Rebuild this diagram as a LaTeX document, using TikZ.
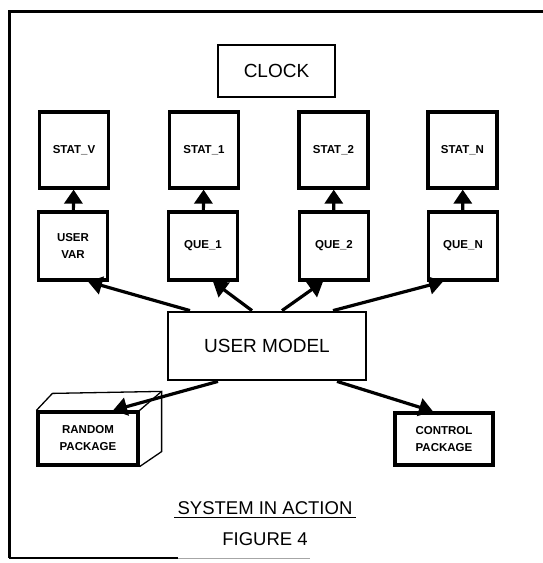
\documentclass[tikz,border=0pt]{standalone}
\usepackage{fontspec}
\setmainfont{Liberation Sans}
\usetikzlibrary{arrows.meta}

\begin{document}
\begin{tikzpicture}[x=1pt,y=-1pt,
        box/.style={draw, line width=3.2pt, inner sep=0pt, align=center,
            minimum width=69pt, font=\fontsize{11.5}{17}\selectfont\bfseries},
        bigbox/.style={draw, line width=2.8pt, inner sep=0pt,
            font=\fontsize{19}{22}\selectfont},
        link/.style={line width=3.2pt, -{Triangle[width=18pt,length=14pt]}}]
                \useasboundingbox (0,0) rectangle (543,563);

                % frame round the whole figure
                \draw[line width=3pt] (9,558) -- (9,11) -- (543,11);
                \draw[line width=2.4pt] (9,558) -- (178,558);
                \draw[line width=0.8pt, black!35] (178,558) -- (310,558);

                \node[bigbox, minimum width=117pt, minimum height=52pt] (clock) at (276.5,71) {CLOCK};

                \node[box, minimum height=76pt] (statv) at (74,150) {STAT\_V};
                \node[box, minimum height=76pt] (stat1) at (204,150) {STAT\_1};
                \node[box, minimum height=76pt] (stat2) at (333.5,150) {STAT\_2};
                \node[box, minimum height=76pt] (statn) at (462.5,150) {STAT\_N};

                \node[box, minimum height=68pt] (uvar) at (73,246) {USER\\VAR};
                \node[box, minimum height=68pt] (que1) at (203,246) {QUE\_1};
                \node[box, minimum height=68pt] (que2) at (334,246) {QUE\_2};
                \node[box, minimum height=68pt] (quen) at (463,246) {QUE\_N};

                \node[bigbox, minimum width=198pt, minimum height=68pt] (umodel) at (267,346) {USER MODEL};

                \node[box, minimum width=100pt, minimum height=53pt] (random) at (88,438.5) {RANDOM\\PACKAGE};
                \node[box, minimum width=98pt, minimum height=52pt] (control) at (444,439) {CONTROL\\PACKAGE};

                % the crate behind the random package
                \draw[line width=1.3pt] (random.north west) -- ++(16,-17)
                    -- ([shift={(22,-19)}]random.north east)
                    -- ([shift={(22,-15)}]random.south east) -- (random.south east);
                \draw[line width=1.3pt] (random.north east) -- ([shift={(22,-19)}]random.north east);

                \draw[link] (uvar) -- (statv);
                \draw[link] (que1) -- (stat1);
                \draw[link] (que2) -- (stat2);
                \draw[link] (quen) -- (statn);

                \draw[link] ([xshift=-77pt]umodel.north) -- ([xshift=15pt]uvar.south);
                \draw[link] ([xshift=-15pt]umodel.north) -- ([xshift=10pt]que1.south);
                \draw[link] ([xshift=15pt]umodel.north) -- ([xshift=-11pt]que2.south);
                \draw[link] ([xshift=66pt]umodel.north) -- ([xshift=-20pt]quen.south);

                \draw[link] ([xshift=-49pt]umodel.south) -- ([xshift=25pt]random.north);
                \draw[link] ([xshift=70pt]umodel.south) -- ([xshift=-11pt]control.north);

                \node[font=\fontsize{18.5}{22}\selectfont] (title) at (265,508) {SYSTEM IN ACTION};
                \draw[line width=1.5pt] ([yshift=-3pt]title.base west) -- ([yshift=-3pt]title.base east);
                \node[font=\fontsize{18.5}{22}\selectfont] (fig) at (265,539) {FIGURE 4};
            \end{tikzpicture}
\end{document}
